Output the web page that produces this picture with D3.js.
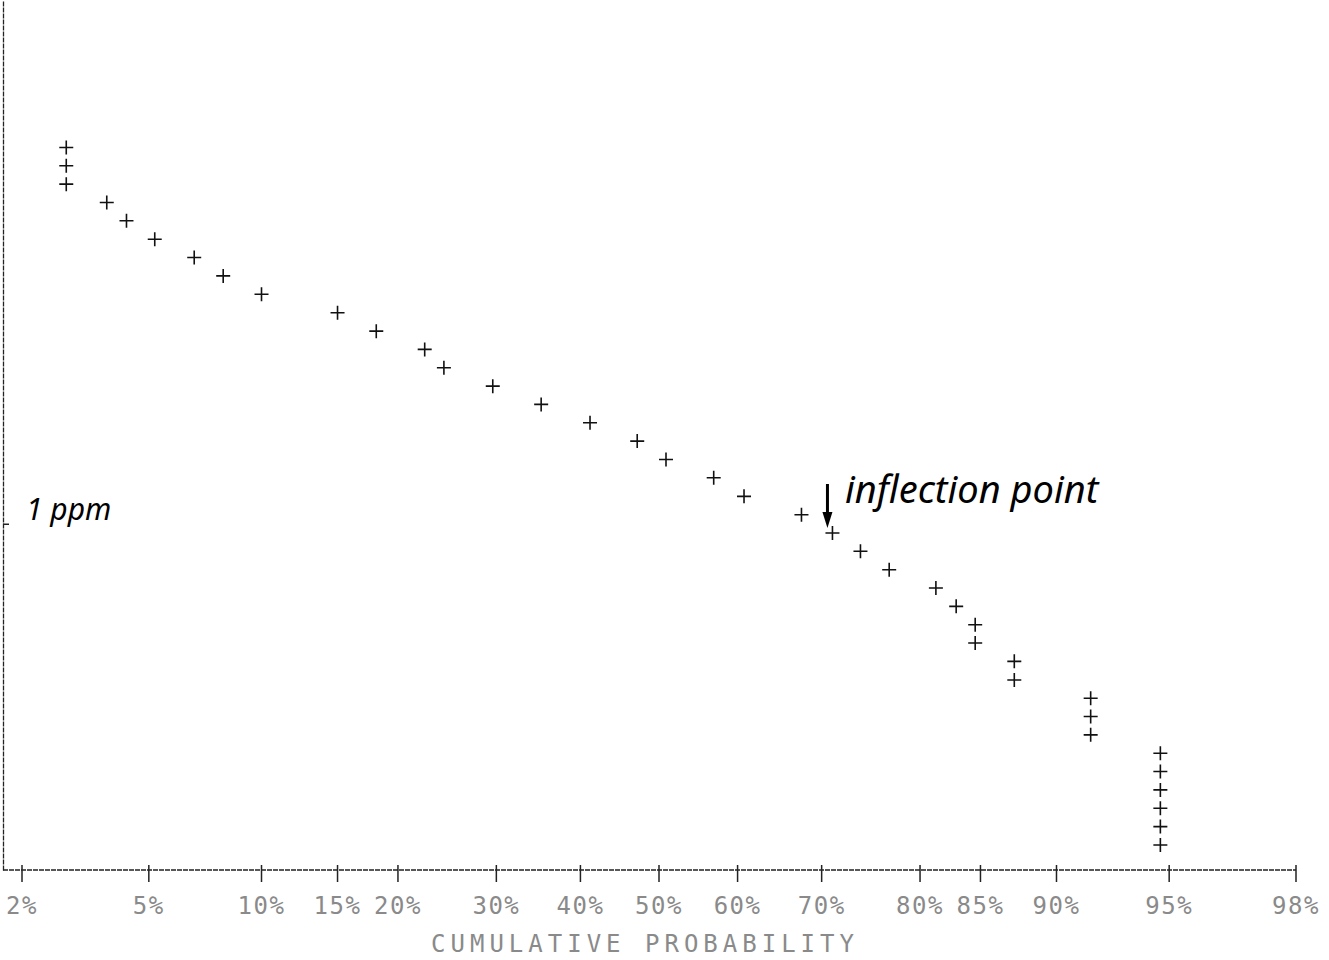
<!DOCTYPE html>
<html>
<head>
<meta charset="utf-8">
<script src="https://cdn.jsdelivr.net/npm/d3@7"></script>
<style>
  body { margin: 0; background: #fff; }
  svg { display: block; }
</style>
</head>
<body>
<div id="chart"></div>
<script>
// cumulative probability (%) of each point
const probPct = [2.8, 2.8, 2.8, 3.75, 4.3, 5.2, 6.7, 8.0, 10.0, 15.0, 18.1, 22.5, 24.4, 29.6,
  35.2, 41.2, 47.2, 50.9, 57.0, 60.8, 67.7, 71.2, 74.2, 77.1, 81.4, 83.1, 84.6, 84.6,
  87.4, 87.4, 91.8, 91.8, 91.8, 94.7, 94.7, 94.7, 94.7, 94.7, 94.7];

// concentration (ppm) of each point, log-spaced on the y axis
const ppm = [112, 89.1, 70.8, 56.2, 44.7, 35.5, 28.2, 22.4, 17.8, 14.1, 11.2, 8.91, 7.08,
  5.62, 4.47, 3.55, 2.82, 2.24, 1.78, 1.41, 1.12, 0.891, 0.708, 0.562, 0.447, 0.355,
  0.282, 0.224, 0.178, 0.141, 0.112, 0.0891, 0.0708, 0.0562, 0.0447, 0.0355, 0.0282,
  0.0224, 0.0178];

const xTicks = [2, 5, 10, 15, 20, 30, 40, 50, 60, 70, 80, 85, 90, 95, 98];
const yTicks = [1];

const width = 1329, height = 960;
const axisX = 3, axisY = 870;

// inverse normal cdf (Acklam) for the probability scale
function probit(p) {
  const a = [-39.69683028665376, 220.9460984245205, -275.9285104469687, 138.3577518672690, -30.66479806614716, 2.506628277459239];
  const b = [-54.47609879822406, 161.5858368580409, -155.6989798598866, 66.80131188771972, -13.28068155288572];
  const c = [-0.007784894002430293, -0.3223964580411365, -2.400758277161838, -2.549732539343734, 4.374664141464968, 2.938163982698783];
  const d = [0.007784695709041462, 0.3224671290700398, 2.445134137142996, 3.754408661907416];
  const pl = 0.02425;
  if (p < pl) {
    const q = Math.sqrt(-2 * Math.log(p));
    return (((((c[0]*q+c[1])*q+c[2])*q+c[3])*q+c[4])*q+c[5]) / ((((d[0]*q+d[1])*q+d[2])*q+d[3])*q+1);
  } else if (p <= 1 - pl) {
    const q = p - 0.5, r = q * q;
    return (((((a[0]*r+a[1])*r+a[2])*r+a[3])*r+a[4])*r+a[5])*q / (((((b[0]*r+b[1])*r+b[2])*r+b[3])*r+b[4])*r+1);
  } else {
    const q = Math.sqrt(-2 * Math.log(1 - p));
    return -(((((c[0]*q+c[1])*q+c[2])*q+c[3])*q+c[4])*q+c[5]) / ((((d[0]*q+d[1])*q+d[2])*q+d[3])*q+1);
  }
}

const zScale = d3.scaleLinear()
  .domain([probit(0.02), probit(0.98)])
  .range([22, 1296]);
const xScale = pct => zScale(probit(pct / 100));

const yScale = d3.scaleLog()
  .domain([0.013, 713])
  .range([axisY, 0]);

const svg = d3.select("#chart").append("svg")
  .attr("width", width)
  .attr("height", height);

// y axis (left edge), single tick at 1 ppm
const yAxis = svg.append("g")
  .attr("transform", `translate(${axisX},0)`)
  .call(d3.axisLeft(yScale).tickValues(yTicks).tickSizeInner(-6).tickSizeOuter(0).tickFormat(""));
yAxis.select(".domain").attr("stroke", "#222").attr("stroke-width", 1.3).attr("stroke-dasharray", "5 1");
yAxis.selectAll(".tick line").attr("stroke", "#222").attr("stroke-width", 1.5);

// x axis on a normal probability scale
const xg = svg.append("g");
xg.append("line")
  .attr("x1", axisX).attr("x2", xScale(98))
  .attr("y1", axisY).attr("y2", axisY)
  .attr("stroke", "#222").attr("stroke-width", 1.3)
  .attr("stroke-dasharray", "5 1");

const tick = xg.selectAll(".xtick")
  .data(xTicks)
  .join("g")
  .attr("class", "xtick")
  .attr("transform", d => `translate(${xScale(d)},${axisY})`);

tick.append("line")
  .attr("y1", -5).attr("y2", 12)
  .attr("stroke", "#222").attr("stroke-width", 1.5);

tick.append("text")
  .attr("y", 44)
  .attr("text-anchor", "middle")
  .attr("font-family", "DejaVu Sans Mono, monospace")
  .attr("font-size", 24)
  .attr("letter-spacing", 1.5)
  .attr("fill", "#8a8a8a")
  .text(d => d + "%");

svg.append("text")
  .attr("x", 645)
  .attr("y", 952)
  .attr("text-anchor", "middle")
  .attr("font-family", "DejaVu Sans Mono, monospace")
  .attr("font-size", 24)
  .attr("letter-spacing", 5)
  .attr("fill", "#8a8a8a")
  .text("CUMULATIVE PROBABILITY");

// data points drawn as plus markers
const points = probPct.map((p, i) => ({ p: p, v: ppm[i] }));
svg.append("g")
  .selectAll("path")
  .data(points)
  .join("path")
  .attr("transform", d => `translate(${xScale(d.p)},${yScale(d.v)})`)
  .attr("d", "M-7,0H7M0,-7V7")
  .attr("stroke", "#111")
  .attr("stroke-width", 1.6)
  .attr("fill", "none");

// handwritten notes
svg.append("text")
  .attr("x", 26)
  .attr("y", 520)
  .attr("font-family", "Noto Sans, sans-serif")
  .attr("font-style", "italic")
  .attr("font-size", 30)
  .attr("fill", "#000")
  .text("1 ppm");

svg.append("text")
  .attr("x", 845)
  .attr("y", 503)
  .attr("font-family", "Noto Sans, sans-serif")
  .attr("font-style", "italic")
  .attr("font-size", 38)
  .attr("fill", "#000")
  .text("inflection point");

const arrowX = xScale(probPct[21]) - 5;
svg.append("line")
  .attr("x1", arrowX).attr("x2", arrowX)
  .attr("y1", 484).attr("y2", 514)
  .attr("stroke", "#000").attr("stroke-width", 3);
svg.append("path")
  .attr("transform", `translate(${arrowX},528)`)
  .attr("d", "M0,0L-5,-16L5,-16Z")
  .attr("fill", "#000");
</script>
</body>
</html>
